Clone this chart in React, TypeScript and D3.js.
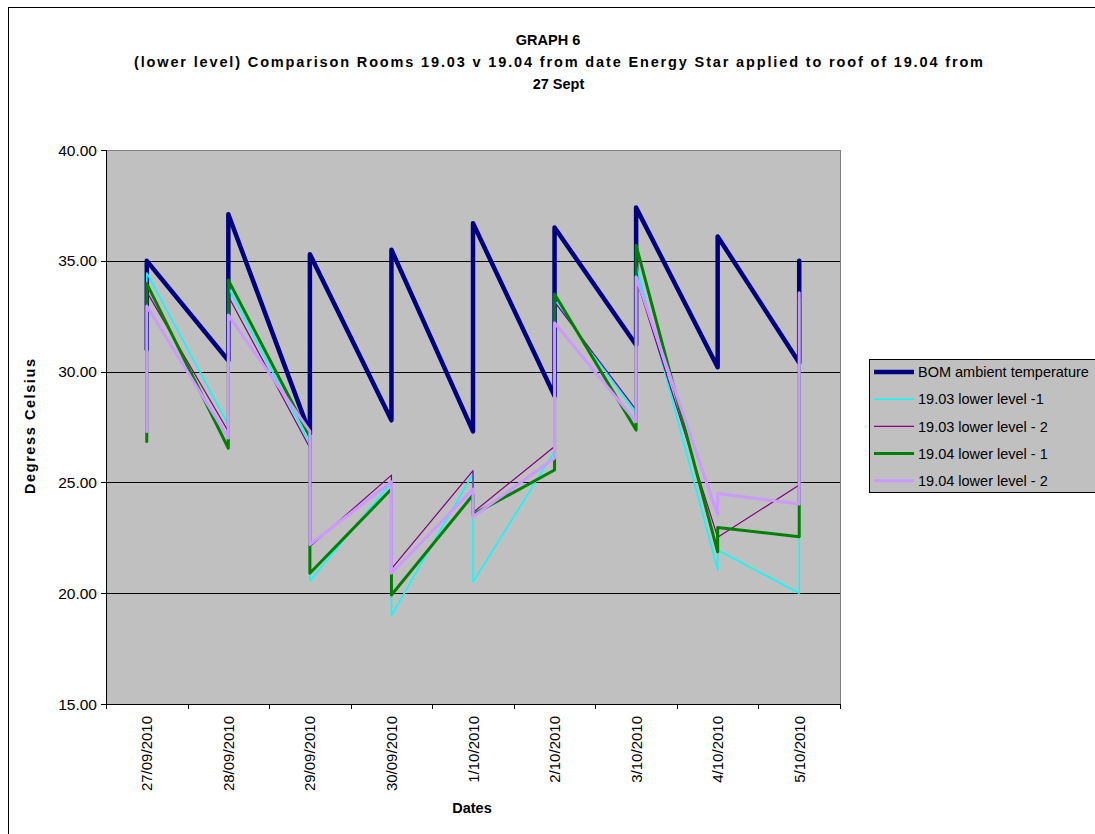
import React from "react";
import * as d3 from "d3";

// ---- data ----
const dates = [
  "27/09/2010", "28/09/2010", "29/09/2010", "30/09/2010", "1/10/2010",
  "2/10/2010", "3/10/2010", "4/10/2010", "5/10/2010",
];
// two readings per date (first, last)
const readingDates = dates.flatMap((d) => [d, d]);

const bomAmbient = [31.0, 35.0, 30.5, 37.1, 27.2, 35.3, 27.8, 35.5, 27.3, 36.7, 28.9, 36.5, 31.2, 37.4, 30.2, 36.1, 30.4, 35.0];
const room1903L1 = [31.0, 34.45, 27.6, 33.8, 26.75, 20.55, 25.0, 19.0, 25.4, 20.5, 26.4, 33.2, 28.1, 34.8, 21.05, 21.95, 20.0, 33.0];
const room1903L2 = [31.5, 33.6, 27.3, 33.4, 26.55, 22.1, 25.33, 21.1, 25.53, 23.64, 26.62, 33.15, 28.27, 34.2, 22.52, 22.52, 24.88, 33.2];
const room1904L1 = [26.85, 33.97, 26.54, 34.13, 27.06, 20.9, 24.7, 19.92, 24.43, 23.55, 25.56, 33.5, 27.36, 35.7, 21.87, 22.97, 22.55, 33.3];
const room1904L2 = [27.3, 32.96, 27.0, 32.55, 27.3, 22.2, 25.03, 20.9, 24.7, 23.45, 26.1, 32.2, 27.74, 34.28, 23.53, 24.5, 24.03, 33.56];

const yTicks = [15, 20, 25, 30, 35, 40];

const seriesNames = [
  "BOM ambient temperature",
  "19.03 lower level -1",
  "19.03 lower level - 2",
  "19.04 lower level - 1",
  "19.04 lower level - 2",
];
const seriesValues = [bomAmbient, room1903L1, room1903L2, room1904L1, room1904L2];
const seriesColors = ["#000080", "#00FFFF", "#800080", "#008000", "#CC99FF"];
const seriesWidths = [4.5, 1.6, 1.2, 3, 3];

const titleLines = [
  "GRAPH 6",
  "(lower level) Comparison Rooms 19.03 v 19.04 from date Energy Star applied to roof of 19.04 from",
  "27 Sept",
];

export default function App() {
  const W = 1095, H = 834;
  const left = 106, right = 840, top = 150, bottom = 704;
  const x = d3.scaleBand<string>().domain(dates).range([left, right]).padding(0);
  const xc = (d: string) => (x(d) as number) + x.bandwidth() / 2;
  const y = d3.scaleLinear().domain([15, 40]).range([bottom, top]);
  const fmt = d3.format(".2f");
  const px = (v: number) => Math.round(v) + 0.5;

  const line = d3
    .line<number>()
    .x((_, i) => xc(readingDates[i]))
    .y((v) => y(v));

  const font = "Liberation Sans, Arial, sans-serif";
  const boundaries = [...dates.map((d) => x(d) as number), right];

  return (
    <div style={{ position: "absolute", left: 0, top: 0 }}>
      <svg width={W} height={H} style={{ display: "block", background: "#fff" }} fontFamily={font}>
        <rect x={8.5} y={7.5} width={1200} height={1000} fill="#fff" stroke="#000" strokeWidth={1} />

        <text x={548} y={45} textAnchor="middle" fontWeight="bold" fontSize={14.5}>{titleLines[0]}</text>
        <text x={558.5} y={67} textAnchor="middle" fontWeight="bold" fontSize={14.5} textLength={849} lengthAdjust="spacing">{titleLines[1]}</text>
        <text x={558.5} y={89} textAnchor="middle" fontWeight="bold" fontSize={14.5}>{titleLines[2]}</text>

        <rect x={left} y={top} width={right - left} height={bottom - top} fill="#C0C0C0" />
        {yTicks.filter((t) => t > 15 && t < 40).map((t) => (
          <line key={t} x1={left} x2={right} y1={px(y(t))} y2={px(y(t))} stroke="#000" strokeWidth={1} />
        ))}
        <line x1={left} x2={right} y1={px(top)} y2={px(top)} stroke="#808080" strokeWidth={1} />
        <line x1={px(right)} x2={px(right)} y1={top} y2={bottom} stroke="#808080" strokeWidth={1} />

        {/* y axis */}
        <line x1={px(left)} x2={px(left)} y1={top} y2={bottom} stroke="#000" strokeWidth={1} />
        {yTicks.map((t) => (
          <g key={t}>
            <line x1={left - 5} x2={left} y1={px(y(t))} y2={px(y(t))} stroke="#000" />
            <text x={97} y={y(t)} dy="0.36em" textAnchor="end" fontSize={15.5}>
              {fmt(t)}
            </text>
          </g>
        ))}

        {/* x axis */}
        <line x1={left} x2={right + 1} y1={px(bottom)} y2={px(bottom)} stroke="#000" strokeWidth={1} />
        {boundaries.map((b, i) => (
          <line key={i} x1={px(b)} x2={px(b)} y1={bottom} y2={bottom + 5} stroke="#000" />
        ))}
        {dates.map((d) => (
          <text key={d} transform={`translate(${xc(d) + 5.5},${716}) rotate(-90)`} textAnchor="end" fontSize={15}>
            {d}
          </text>
        ))}

        <text x={472} y={813} textAnchor="middle" fontWeight="bold" fontSize={14.5}>
          Dates
        </text>
        <text transform={`translate(35,${(358 + 495) / 2}) rotate(-90)`} textAnchor="middle" fontWeight="bold" fontSize={14.5} textLength={135} lengthAdjust="spacing">
          Degress Celsius
        </text>

        {/* series */}
        {seriesValues.map((vals, i) => (
          <path
            key={i}
            d={line(vals) || ""}
            fill="none"
            stroke={seriesColors[i]}
            strokeWidth={seriesWidths[i]}
            strokeLinejoin="round"
            strokeLinecap="round"
          />
        ))}

        {/* legend */}
        <rect x={869.5} y={359.5} width={300} height={133} fill="#C0C0C0" stroke="#000" strokeWidth={1} />
        {seriesNames.map((n, i) => {
          const ly = 372 + i * 27.2;
          return (
            <g key={n}>
              <line x1={874} x2={914} y1={ly} y2={ly} stroke={seriesColors[i]} strokeWidth={seriesWidths[i]} />
              <text x={918} y={ly} dy="0.36em" fontSize={14.5}>
                {n}
              </text>
            </g>
          );
        })}
      </svg>
    </div>
  );
}
